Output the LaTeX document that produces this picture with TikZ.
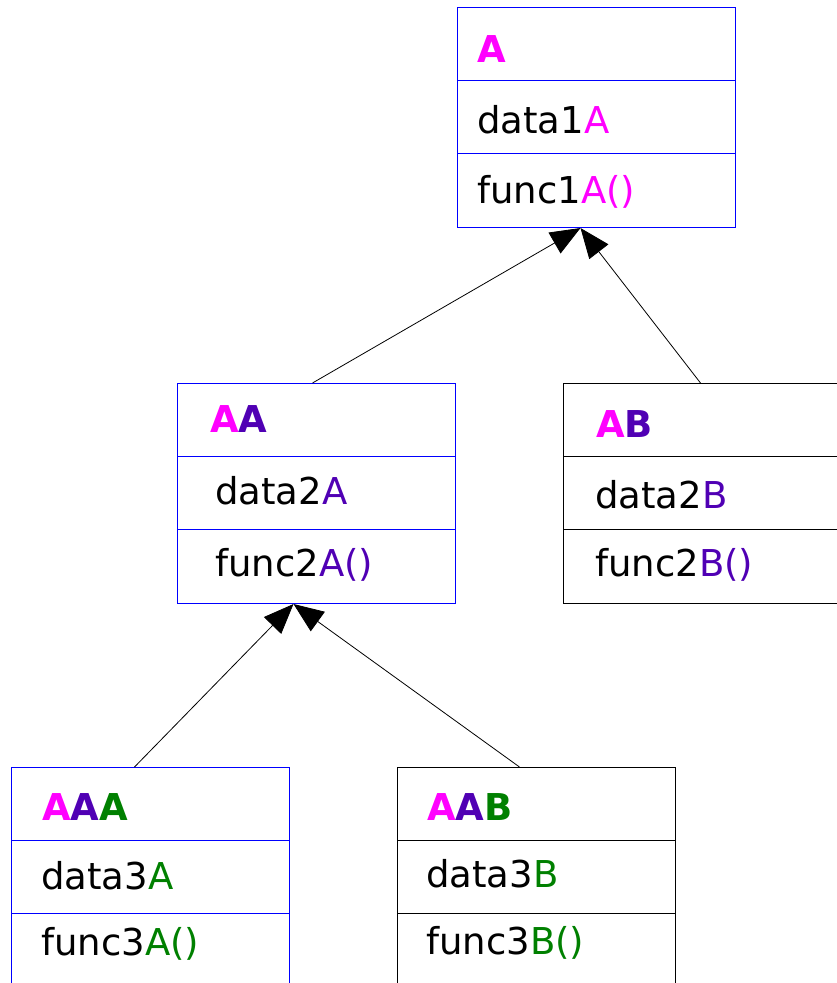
\documentclass[tikz,border=0pt]{standalone}
\usepackage{fontspec}
\setmainfont{DejaVu Sans}
\usetikzlibrary{arrows.meta}
\definecolor{lvlA}{RGB}{255,0,255}
\definecolor{lvlB}{RGB}{80,0,180}
\definecolor{lvlC}{RGB}{0,128,0}
\definecolor{boxblue}{RGB}{0,0,255}

\tikzset{
  classbox/.style={color=#1, draw, line width=1pt, minimum width=278pt, minimum height=220pt, inner sep=0pt, anchor=north west},
  classbox/.default=boxblue,
  member/.style={anchor=base west, inner sep=0pt, text=black, font=\fontsize{37}{44}\selectfont},
  title/.style={member, font=\fontsize{37}{44}\selectfont\bfseries},
  inherit/.style={-{Triangle[length=30pt,width=24pt]}, line width=0.8pt, color=black},
}

\begin{document}
\begin{tikzpicture}[x=1pt, y=-1pt]
    \useasboundingbox (0,0) rectangle (836,983);

    % names and members
    \node[title] (A-name) at (477,62) {\textcolor{lvlA}{A}};
    \node[member] (A-data) at (477,133) {data1\textcolor{lvlA}{A}};
    \node[member] (A-func) at (477,203) {func1\textcolor{lvlA}{A()}};

    \node[title] (AA-name) at (210,432) {\textcolor{lvlA}{A}\textcolor{lvlB}{A}};
    \node[member] (AA-data) at (215,504) {data2\textcolor{lvlB}{A}};
    \node[member] (AA-func) at (215,576) {func2\textcolor{lvlB}{A()}};

    \node[title] (AB-name) at (596,437) {\textcolor{lvlA}{A}\textcolor{lvlB}{B}};
    \node[member] (AB-data) at (595,508) {data2\textcolor{lvlB}{B}};
    \node[member] (AB-func) at (595,576) {func2\textcolor{lvlB}{B()}};

    \node[title] (AAA-name) at (42,820) {\textcolor{lvlA}{A}\textcolor{lvlB}{A}\textcolor{lvlC}{A}};
    \node[member] (AAA-data) at (41,889) {data3\textcolor{lvlC}{A}};
    \node[member] (AAA-func) at (41,955) {func3\textcolor{lvlC}{A()}};

    \node[title] (AAB-name) at (427,820) {\textcolor{lvlA}{A}\textcolor{lvlB}{A}\textcolor{lvlC}{B}};
    \node[member] (AAB-data) at (426,887) {data3\textcolor{lvlC}{B}};
    \node[member] (AAB-func) at (426,954) {func3\textcolor{lvlC}{B()}};

    % class boxes
    \node[classbox] (A) at (457,7) {};
    \node[classbox] (AA) at (177,383) {};
    \node[classbox=black] (AB) at (563,383) {};
    \node[classbox] (AAA) at (11,767) {};
    \node[classbox=black] (AAB) at (397,767) {};
    \foreach \cls/\col in {A/boxblue, AA/boxblue, AB/black, AAA/boxblue, AAB/black}{
        \draw[color=\col, line width=1pt] ([yshift=-73.3pt]\cls.north west) -- ([yshift=-73.3pt]\cls.north east);
        \draw[color=\col, line width=1pt] ([yshift=-146.6pt]\cls.north west) -- ([yshift=-146.6pt]\cls.north east);
    }

    % inheritance
    \draw[inherit] ([xshift=-4pt]AA.north) -- ([xshift=-16pt]A.south);
    \draw[inherit] ([xshift=-2pt]AB.north) -- ([xshift=-16pt]A.south);
    \draw[inherit] ([xshift=-16pt]AAA.north) -- ([xshift=-23pt]AA.south);
    \draw[inherit] ([xshift=-17pt]AAB.north) -- ([xshift=-23pt]AA.south);
\end{tikzpicture}
\end{document}
